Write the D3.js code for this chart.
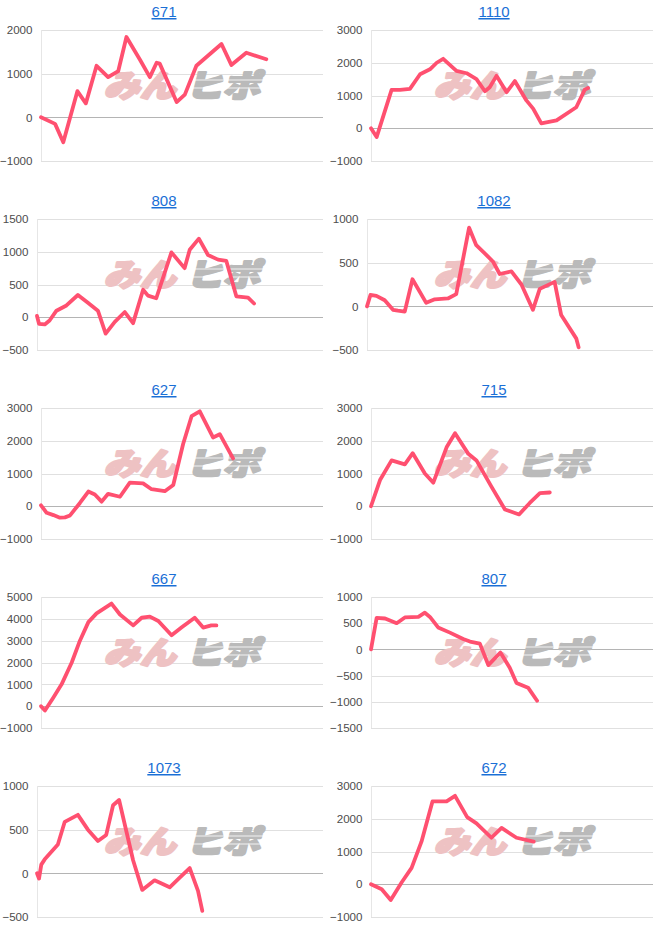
<!DOCTYPE html>
<html>
<head>
<meta charset="utf-8">
<script src="https://cdn.jsdelivr.net/npm/d3@7"></script>
<style>
  html, body { margin: 0; padding: 0; background: #fff; }
  svg { display: block; }
</style>
</head>
<body>
<svg id="chart" width="660" height="945"></svg>
<script>
// ---------- DATA ----------
const titles = ["671", "1110", "808", "1082", "627", "715", "667", "807", "1073", "672"];

// x positions are progress along the (unlabelled) horizontal axis, 0..100
const x671 = [0, 5.0, 7.9, 12.9, 15.9, 19.7, 23.8, 27.4, 30.3, 35.1, 38.6, 41.0, 42.1, 48.1, 51.0, 55.1, 59.9, 64.0, 67.5, 72.8, 79.9];
const v671 = [0, -150, -570, 600, 320, 1180, 920, 1060, 1840, 1320, 920, 1250, 1230, 350, 520, 1180, 1450, 1680, 1200, 1480, 1330];
const t671 = [-1000, 0, 1000, 2000];

const x1110 = [0, 2.0, 7.3, 10.3, 13.8, 17.4, 20.9, 23.3, 25.6, 30.3, 33.9, 37.4, 40.4, 42.1, 44.5, 48.1, 51.0, 55.1, 57.5, 60.4, 65.8, 72.8, 75.8, 77.0];
const v1110 = [0, -270, 1170, 1170, 1200, 1650, 1800, 2000, 2120, 1750, 1680, 1500, 1130, 1250, 1600, 1100, 1440, 850, 600, 150, 240, 640, 1180, 1230];
const t1110 = [-1000, 0, 1000, 2000, 3000];

const x808 = [0, 0.7, 2.7, 4.4, 6.8, 10.3, 14.3, 17.8, 21.3, 24.0, 27.2, 30.7, 33.6, 37.1, 38.8, 41.7, 47.0, 51.6, 53.4, 56.6, 59.8, 63.3, 66.2, 69.7, 73.8, 75.9];
const v808 = [20, -100, -110, -50, 100, 180, 340, 220, 100, -250, -70, 80, -90, 420, 330, 290, 990, 750, 1030, 1200, 950, 880, 860, 320, 300, 210];
const t808 = [-500, 0, 500, 1000, 1500];

const x1082 = [0, 1.2, 3.3, 6.2, 9.1, 10.8, 13.2, 15.9, 20.7, 23.7, 28.3, 31.2, 35.7, 38.2, 41.7, 44.1, 46.4, 50.5, 54.0, 58.0, 60.4, 65.6, 67.9, 73.2, 74.0];
const v1082 = [0, 130, 120, 70, -40, -50, -60, 310, 40, 80, 90, 140, 900, 700, 590, 510, 370, 400, 250, -40, 200, 280, -100, -370, -470];
const t1082 = [-500, 0, 500, 1000];

const x627 = [0, 2.0, 4.4, 6.7, 8.5, 10.3, 13.8, 16.8, 19.1, 21.5, 23.8, 28.0, 31.5, 36.2, 39.2, 43.9, 46.9, 50.4, 53.4, 56.3, 61.0, 63.4, 68.1];
const v627 = [30, -200, -270, -350, -340, -280, 100, 450, 360, 140, 380, 290, 720, 700, 520, 460, 650, 1900, 2750, 2900, 2100, 2200, 1460];
const t627 = [-1000, 0, 1000, 2000, 3000];

const x715 = [0, 3.2, 7.3, 12.0, 14.8, 19.1, 22.1, 26.8, 29.8, 34.5, 37.4, 42.7, 47.5, 52.5, 56.3, 59.9, 63.4];
const v715 = [0, 800, 1400, 1280, 1620, 1000, 720, 1800, 2230, 1600, 1400, 600, -100, -250, 100, 400, 420];
const t715 = [-1000, 0, 1000, 2000, 3000];

const x667 = [0, 1.4, 4.4, 7.3, 10.9, 13.8, 16.8, 19.7, 25.0, 28.0, 32.7, 35.7, 38.6, 41.6, 46.3, 49.8, 54.5, 57.5, 60.4, 62.2];
const v667 = [0, -200, 400, 1000, 2000, 3000, 3850, 4250, 4700, 4200, 3700, 4050, 4100, 3900, 3250, 3600, 4050, 3600, 3700, 3700];
const t667 = [-1000, 0, 1000, 2000, 3000, 4000, 5000];

const x807 = [0, 2.0, 5.0, 9.1, 12.0, 16.8, 19.1, 20.9, 23.8, 28.0, 32.7, 35.1, 38.6, 41.6, 45.9, 49.2, 51.6, 55.7, 58.9];
const v807 = [0, 600, 590, 500, 610, 620, 700, 620, 420, 320, 200, 150, 110, -300, -60, -350, -640, -730, -980];
const t807 = [-1500, -1000, -500, 0, 500, 1000];

const x1073 = [0, 0.7, 1.5, 2.7, 7.3, 9.7, 14.3, 17.8, 21.3, 24.2, 26.6, 28.7, 33.6, 36.8, 41.1, 46.4, 49.9, 53.4, 56.3, 57.8];
const v1073 = [0, -60, 100, 160, 330, 590, 670, 500, 370, 440, 780, 840, 150, -190, -80, -160, -50, 60, -200, -430];
const t1073 = [-500, 0, 500, 1000];

const x672 = [0, 3.8, 7.0, 10.9, 14.4, 17.9, 21.8, 26.8, 29.8, 34.1, 37.4, 42.7, 46.3, 51.6, 57.7];
const v672 = [0, -150, -480, 60, 500, 1300, 2530, 2530, 2700, 2050, 1860, 1420, 1720, 1420, 1300];
const t672 = [-1000, 0, 1000, 2000, 3000];

const xs = [x671, x1110, x808, x1082, x627, x715, x667, x807, x1073, x672];
const vs = [v671, v1110, v808, v1082, v627, v715, v667, v807, v1073, v672];
const ticks = [t671, t1110, t808, t1082, t627, t715, t667, t807, t1073, t672];

// ---------- DRAW ----------
const svg = d3.select("#chart");
const panelW = 330, panelH = 189;
const plotTop = 30, plotH = 131, plotRight = 323;
const lineColor = "#ff5070";

titles.forEach((title, i) => {
  const col = i % 2, row = Math.floor(i / 2);
  const g = svg.append("g").attr("transform", `translate(${col * panelW},${row * panelH})`);
  const tk = ticks[i];
  const maxLabelLen = d3.max(tk, t => String(t).length);
  const left = maxLabelLen >= 5 ? 41 : 37;

  const x = d3.scaleLinear().domain([0, 100]).range([left, plotRight]);
  const y = d3.scaleLinear().domain([d3.min(tk), d3.max(tk)]).range([plotTop + plotH, plotTop]);

  // title
  g.append("text")
    .attr("x", 164).attr("y", 17)
    .attr("text-anchor", "middle")
    .attr("font-family", "Arial, 'Liberation Sans', sans-serif")
    .attr("font-size", 15)
    .attr("fill", "#1a6fd6")
    .attr("text-decoration", "underline")
    .text(title);

  // gridlines
  g.append("g").selectAll("line").data(tk).join("line")
    .attr("x1", left).attr("x2", plotRight)
    .attr("y1", d => Math.round(y(d)) + 0.5).attr("y2", d => Math.round(y(d)) + 0.5)
    .attr("stroke", d => d === 0 ? "#b4b4b4" : "#e0e0e0")
    .attr("stroke-width", 1);
  // vertical axis line (light)
  g.append("line")
    .attr("x1", left + 0.5).attr("x2", left + 0.5)
    .attr("y1", plotTop).attr("y2", plotTop + plotH)
    .attr("stroke", "#e6e6e6");

  // y axis labels
  const axis = d3.axisLeft(y).tickValues(tk).tickSize(0).tickPadding(8.5).tickFormat(d3.format("d"));
  const ag = g.append("g").attr("transform", `translate(${left},0)`).call(axis);
  ag.select(".domain").remove();
  ag.selectAll("text")
    .attr("font-family", "Arial, 'Liberation Sans', sans-serif")
    .attr("font-size", 11.6)
    .attr("fill", "#4d4d4d");

  // watermark
  const wm = g.append("g");
  wm.append("text")
    .attr("transform", "translate(104,97) skewX(-14)")
    .attr("font-family", "'Noto Sans CJK JP', sans-serif")
    .attr("font-weight", 900)
    .attr("font-size", 31)
    .attr("textLength", 72).attr("lengthAdjust", "spacingAndGlyphs")
    .attr("fill", "#eec2c3")
    .attr("stroke", "#eec2c3").attr("stroke-width", 2.5).attr("stroke-linejoin", "round")
    .text("みん");
  wm.append("text")
    .attr("transform", "translate(186,97) skewX(-14)")
    .attr("font-family", "'Noto Sans CJK JP', sans-serif")
    .attr("font-weight", 900)
    .attr("font-size", 31)
    .attr("textLength", 74).attr("lengthAdjust", "spacingAndGlyphs")
    .attr("fill", "#bababa")
    .attr("stroke", "#bababa").attr("stroke-width", 2.5).attr("stroke-linejoin", "round")
    .text("ヒポ");
  [80, 88].forEach(sy => {
    wm.append("line").attr("x1", 180).attr("x2", 266)
      .attr("y1", sy).attr("y2", sy)
      .attr("stroke", "#fff").attr("stroke-width", 1.2).attr("opacity", 0.8);
  });

  // series line
  const pts = xs[i].map((xv, k) => [xv, vs[i][k]]);
  g.append("path")
    .datum(pts)
    .attr("fill", "none")
    .attr("stroke", lineColor)
    .attr("stroke-width", 3.8)
    .attr("stroke-linejoin", "round")
    .attr("stroke-linecap", "round")
    .attr("d", d3.line().x(d => x(d[0])).y(d => y(d[1])));
});
</script>
</body>
</html>
